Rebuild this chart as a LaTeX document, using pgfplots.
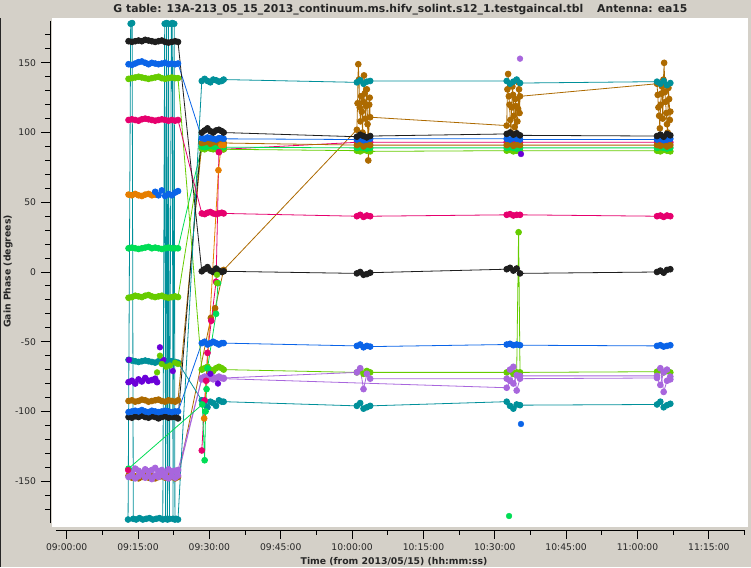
\documentclass[border=0pt]{standalone}
\usepackage{pgfplots}
\pgfplotsset{compat=1.18}
\usepackage{pgfplotstable}
\usepackage{fontspec}
\setmainfont{DejaVu Sans}
\definecolor{bg}{HTML}{D4D0C8}
\definecolor{cK}{HTML}{1E1E1E}
\definecolor{cB}{HTML}{0A64E8}
\definecolor{cY}{HTML}{66CC00}
\definecolor{cG}{HTML}{00DD55}
\definecolor{cT}{HTML}{00909A}
\definecolor{cL}{HTML}{A866DD}
\definecolor{cR}{HTML}{AD6A00}
\definecolor{cO}{HTML}{E67E00}
\definecolor{cP}{HTML}{E6006E}
\definecolor{cV}{HTML}{6A00D8}
\pgfplotsset{
  ser/.style={color=#1, line width=0.8pt, mark=*, mark size=2.9pt, mark options={solid, draw=none, fill=#1}},
  pts/.style={color=#1, only marks, mark=*, mark size=2.9pt, mark options={solid, draw=none, fill=#1}}
}
\pgfplotstableread{
t K1 K2 B1 B2 Y1 Y2 G1 T1 L1 L2 R1 P1
13.0 165.5 -104.0 149.0 -100.5 138.5 -18.5 17.0 -63.0 -147.0 -142.0 -92.5 109.0
13.7 165.0 -104.5 148.5 -100.0 139.0 -18.0 17.5 -63.5 -146.0 -143.5 -92.0 109.5
14.4 165.5 -103.5 149.5 -99.5 139.5 -17.0 17.0 -64.0 -148.0 -141.0 -93.0 109.0
15.1 166.0 -104.0 150.5 -100.0 140.0 -17.5 16.5 -64.5 -146.5 -142.5 -92.5 108.5
15.8 165.5 -103.0 151.0 -99.0 139.5 -18.0 17.0 -64.0 -145.0 -144.0 -91.5 109.5
16.5 166.5 -104.0 150.0 -100.0 139.0 -17.0 17.5 -63.5 -147.5 -141.5 -92.0 110.0
17.2 166.0 -104.5 149.0 -100.5 138.5 -16.5 18.0 -64.0 -146.0 -143.0 -93.0 109.5
17.9 165.5 -103.5 150.0 -99.5 139.0 -17.5 17.0 -64.5 -148.5 -142.0 -92.5 109.0
18.6 165.0 -104.0 149.5 -100.0 139.5 -18.0 17.5 -65.0 -146.0 -140.5 -92.0 108.5
19.3 165.5 -105.0 149.0 -100.5 140.0 -17.5 17.0 -64.0 -147.0 -143.0 -91.5 109.0
20.0 166.0 -104.0 149.5 -100.0 139.0 -17.0 16.5 -64.5 -145.5 -142.0 -92.5 109.5
20.7 165.0 -103.5 150.0 -99.5 138.5 -18.0 17.0 -64.0 -147.0 -144.5 -93.0 109.0
21.4 164.5 -104.5 149.0 -100.0 139.0 -18.5 17.5 -63.5 -148.0 -141.5 -92.0 108.5
22.1 165.0 -104.0 149.5 -100.5 139.5 -18.0 17.0 -64.0 -146.5 -143.0 -92.5 109.0
22.8 165.5 -104.0 149.0 -100.0 139.0 -17.5 17.0 -64.5 -147.5 -142.5 -93.0 108.5
23.4 165.0 -105.0 149.5 -100.0 139.0 -18.0 17.0 -65.0 -146.0 -142.0 -92.0 109.0
28.4 0.5 100.0 96.0 -51.0 -70.0 88.5 90.0 -92.0 -76.0 -77.0 92.5 42.0
29.0 2.0 101.5 95.5 -50.0 -69.0 88.0 89.5 -95.0 -75.0 -76.0 93.0 41.5
29.6 3.5 103.0 96.5 -52.0 -68.0 89.0 90.0 -97.0 -77.0 -75.5 93.5 42.5
30.2 1.0 101.0 96.0 -51.0 -70.0 88.5 90.5 -93.0 -76.0 -76.0 92.0 43.0
30.8 0.0 100.0 95.5 -50.0 -71.0 88.0 90.0 -94.0 -75.5 -77.0 93.0 42.0
31.4 2.5 101.5 95.0 -51.0 -69.0 88.5 89.5 -96.0 -76.0 -76.5 93.5 41.5
32.0 1.0 102.0 96.0 -52.0 -68.0 89.0 90.0 -92.0 -75.0 -75.5 92.5 42.0
32.6 0.0 101.0 96.0 -51.0 -69.0 88.5 90.0 -93.0 -76.0 -76.0 93.0 42.5
33.0 0.5 100.0 95.5 -51.0 -70.0 88.0 89.5 -93.0 -76.0 -76.5 92.5 42.0
61.0 -1.0 97.0 95.0 -53.0 -72.0 87.0 89.0 -96.0 -72.0 nan 91.0 40.0
61.7 0.0 98.5 95.5 -52.0 -70.0 86.5 89.5 -94.0 -69.0 nan 92.0 41.0
62.4 -2.0 97.5 94.5 -54.0 -73.0 87.5 89.0 -98.0 -84.0 nan 90.0 39.5
63.1 -1.5 96.5 95.0 -53.0 -71.0 87.0 88.5 -97.0 -73.0 nan 91.5 40.5
63.8 -0.5 97.5 95.5 -53.5 -72.0 86.5 89.0 -96.0 -76.5 nan 91.0 40.0
92.5 2.0 99.0 95.5 -52.0 -72.0 87.0 89.0 -93.0 -76.5 -83.0 91.0 41.0
93.2 3.0 100.0 95.0 -51.5 -71.0 87.5 89.5 -96.0 -70.0 -78.0 92.0 41.5
93.9 1.0 98.5 96.0 -52.5 -73.0 86.5 89.0 -98.0 -80.0 -68.0 90.5 40.5
94.6 2.5 99.5 95.5 -52.0 -72.0 87.0 88.5 -95.0 -74.0 -85.0 91.5 41.0
95.0 nan nan nan nan 28.5 nan nan nan nan nan nan nan
95.3 -1.0 98.0 95.0 -52.5 -72.0 87.0 89.0 -95.5 -74.5 -76.5 91.0 41.0
124.1 0.0 97.5 95.0 -53.0 -71.5 87.0 89.0 -95.0 -74.5 -76.0 91.0 40.0
124.8 1.0 98.5 95.5 -52.5 -70.0 86.5 89.5 -93.0 -69.0 -81.0 90.5 40.5
125.5 -0.5 97.0 94.5 -53.5 -72.0 87.5 89.0 -97.0 -86.0 -72.0 91.5 39.5
126.2 1.5 99.0 95.0 -53.0 -71.0 87.0 88.5 -95.5 -78.0 -70.0 90.0 40.5
126.9 2.0 98.0 95.5 -52.5 -72.0 86.5 89.0 -94.5 -75.0 -77.0 91.0 40.0
}\gaintab
\begin{document}
\begin{tikzpicture}[x=1pt,y=1pt]
\fill[bg] (0,0) rectangle (751,567);
\fill[black!85] (0,0) rectangle (1.2,549);
\fill[white] (52,40) rectangle (748,549);
\begin{axis}[
  at={(56pt,44pt)}, anchor=south west,
  scale only axis, width=689pt, height=502pt,
  xmin=-2.25, xmax=142.6, ymin=-180, ymax=180,
  axis x line=bottom, axis y line=left,
  axis x line shift=7pt, axis y line shift=6pt,
  axis line style={-, black, line width=0.9pt},
  tick align=outside,
  major tick length=8.5pt, minor tick length=4.5pt,
  every tick/.style={black, line width=0.9pt},
  xtick={0,15,...,135},
  xticklabels={09:00:00,09:15:00,09:30:00,09:45:00,10:00:00,10:15:00,10:30:00,10:45:00,11:00:00,11:15:00},
  minor xtick={7.5,22.5,...,142.5},
  ytick={-150,-100,...,150},
  yticklabels={-150,-100,-50,0,50,100,150},
  minor ytick={-170,-160,...,170},
  tick label style={font=\fontsize{9.2pt}{11pt}\selectfont, text=black!85},
  yticklabel style={xshift=-2pt},
  xticklabel style={yshift=-2pt},
]
% brown noisy
\addplot[ser=cR] coordinates {(13.0,-146)(13.7,-147.5)(14.4,-146.5)(15.1,-148)(15.8,-147)(16.5,-146)(17.2,-147.5)(17.9,-146.5)(18.6,-148)(19.3,-147)(20.0,-146.5)(20.7,-147.5)(21.4,-146)(22.1,-147)(22.8,-148)(23.4,-147)
 (30.3,-33)(31.2,-26)(33.0,1.5)
 (61.0,102)(61.15,121)(61.3,149)(61.45,138)(61.6,118)(61.75,108)(61.9,126)(62.05,115)(62.2,100)(62.35,122)(62.5,141)(62.65,128)(62.8,110)(62.95,119)(63.1,131)(63.25,106)(63.4,80)(63.5,97)(63.6,120)(63.7,125)(63.8,111)
 (92.5,105)(92.65,131)(92.8,142)(92.95,126)(93.1,120)(93.25,109)(93.4,100)(93.55,118)(93.7,133)(93.85,127)(94.0,112)(94.15,104)(94.3,124)(94.45,119)(94.6,97)(94.75,108)(94.9,117)(95.0,136)(95.1,131)(95.2,114)(95.3,126)
 (124.1,135)(124.25,127)(124.4,118)(124.55,112)(124.7,103)(124.85,120)(125.0,128)(125.15,133)(125.3,110)(125.45,138)(125.6,150)(125.75,129)(125.9,122)(126.05,114)(126.2,106)(126.35,100)(126.5,132)(126.65,124)(126.8,109)(126.9,115)};
% pink 2 (late part)
\addplot[ser=cP] coordinates {(32.0,86)(32.6,88)(33.0,88)(61.0,93)(61.7,93)(62.4,93)(63.1,93)(63.8,93)(92.5,93)(93.2,93)(93.9,93)(94.6,93)(95.3,93)(124.1,93)(124.8,93)(125.5,93)(126.2,93)(126.9,93)};
\addplot[ser=cY] table[x=t,y=Y2] {\gaintab};
\addplot[ser=cG] table[x=t,y=G1] {\gaintab};
\addplot[ser=cR] table[x=t,y=R1] {\gaintab};
\addplot[ser=cB] table[x=t,y=B1] {\gaintab};
\addplot[ser=cK] table[x=t,y=K2] {\gaintab};
\addplot[ser=cB] table[x=t,y=B2] {\gaintab};
% purple, scan 1
\addplot[ser=cV] coordinates {(13.0,-79)(13.7,-78)(14.4,-80)(15.1,-77)(15.8,-78.5)(16.5,-76)(17.2,-78)(17.9,-77.5)(18.6,-76.5)(19.0,-79)};
% orange, scan 1
\addplot[ser=cO] coordinates {(13.0,55.5)(13.7,55)(14.4,56)(15.1,55)(15.8,54.5)(16.5,55.5)(17.2,56)(17.9,55)(18.6,55.5)};
\addplot[ser=cT] table[x=t,y=T1] {\gaintab};
\addplot[ser=cY] table[x=t,y=Y1] {\gaintab};
\addplot[ser=cL] table[x=t,y=L1] {\gaintab};
\addplot[ser=cL] table[x=t,y=L2] {\gaintab};
% teal, wrapping at +-180
\addplot[ser=cT] coordinates {(12.9,-177.5)(13.45,178)(13.75,178.5)(14.0,-177)(14.6,-177.5)(15.3,-176.5)(16.0,-177.5)(16.7,-177)(17.4,-176.5)(18.1,-177.5)(18.8,-177)(19.5,-176.5)(20.2,-177.5)(20.6,178)(20.8,-177)(21.0,178.5)(21.2,-177.5)(21.4,178)(21.6,-177)(22.0,178)(22.2,178.5)(22.35,-177)(22.6,178)(22.75,-177.5)(23.0,-177)(23.4,-177.5)
 (28.4,137)(29.0,138.5)(29.6,137)(30.2,136)(30.8,138)(31.4,137.5)(32.0,136.5)(32.6,137)(33.0,138)
 (61.0,136)(61.7,137.5)(62.4,135)(63.1,136.5)(63.8,137)
 (92.5,137)(93.2,135)(93.9,136.5)(94.6,138)(95.3,135.5)
 (124.1,136.5)(124.8,135)(125.5,137)(126.2,134)(126.9,135.5)};
\addplot[ser=cP] table[x=t,y=P1] {\gaintab};
\addplot[ser=cK] table[x=t,y=K1] {\gaintab};
% pink 2 (scan 2 scatter)
\addplot[ser=cP] coordinates {(28.4,-128)(29.0,-92)(29.3,-78)(29.6,-58)(30.4,-35)(31.4,-7)(32.0,86)};
% bright green 2
\addplot[ser=cG] coordinates {(13.0,-141)(28.5,-95)(29.0,-135)(29.2,-100)(29.4,-84)(29.6,-69)(31.4,-30)(31.8,-8)};
% orange, scan 2
\addplot[ser=cO] coordinates {(28.9,-105)(31.9,73)(32.5,91)(33.0,91)};
% blue near 57, scan 1
\addplot[ser=cB] coordinates {(18.6,57.5)(19.3,55)(20.0,58.5)(20.7,54.5)(21.4,56)(22.1,55)(22.8,57)(23.4,58)};
% isolated points
\addplot[pts=cV] coordinates {(13.1,-63)(19.6,-54)(20.3,-63)(22.3,-71)(30.2,-73)(31.8,-80)(95.5,84.6)};
\addplot[pts=cY] coordinates {(19.0,-72)(19.6,-60)(20.0,-66)(20.9,-68)(21.7,-67)(22.8,-65)(23.4,-66)(31.6,-2)(31.6,-8)};
\addplot[pts=cL] coordinates {(95.3,153)};
\addplot[pts=cB] coordinates {(95.5,-109)};
\addplot[pts=cG] coordinates {(93.0,-175)};
\addplot[pts=cP] coordinates {(12.9,-142)};
\end{axis}
\node[font=\bfseries\fontsize{10.8pt}{12pt}\selectfont, anchor=base, text=black!85] at (400.4,554)
  {G table: 13A-213\_05\_15\_2013\_continuum.ms.hifv\_solint.s12\_1.testgaincal.tbl\hspace{14pt}Antenna: ea15};
\node[font=\bfseries\fontsize{9.3pt}{11pt}\selectfont, anchor=base, text=black!85] at (394,2.8)
  {Time (from 2013/05/15) (hh:mm:ss)};
\node[font=\bfseries\fontsize{9.3pt}{11pt}\selectfont, anchor=base, rotate=90, text=black!85] at (10.5,295.5)
  {Gain Phase (degrees)};
\pgfresetboundingbox
\path[use as bounding box] (0,0) rectangle (751,567);
\end{tikzpicture}
\end{document}
